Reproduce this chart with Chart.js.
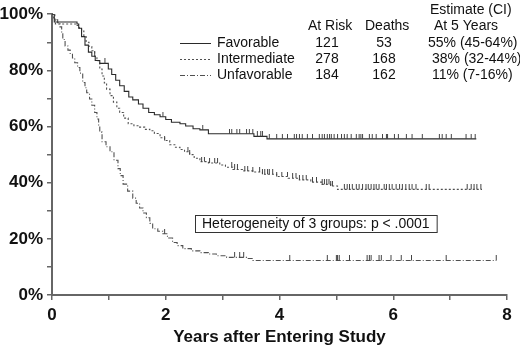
<!DOCTYPE html>
<html>
<head>
<meta charset="utf-8">
<script src="https://cdn.jsdelivr.net/npm/chart.js@4.4.1/dist/chart.umd.min.js"></script>
<style>
html,body{margin:0;padding:0;background:#fff;}
#wrap{width:520px;height:346px;position:relative;}
</style>
</head>
<body>
<div id="wrap"><canvas id="c" width="520" height="346"></canvas></div>
<script>
// ---- Data ----
const groups = ["Favorable", "Intermediate", "Unfavorable"];
const atRisk = ["121", "278", "184"];
const deaths = ["53", "168", "162"];
const estimates = ["55% (45-64%)", "38% (32-44%)", "11% (7-16%)"];
const yTickLabels = ["0%", "20%", "40%", "60%", "80%", "100%"];
const xTickLabels = ["0", "2", "4", "6", "8"];
const annotationText = "Heterogeneity of 3 groups: p < .0001";

const favTimes = [0,0.04,0.44,0.47,0.52,0.58,0.64,0.70,0.76,0.84,0.99,1.05,1.12,1.19,1.27,1.35,1.42,1.52,1.60,1.70,1.80,1.90,2.00,2.10,2.25,2.35,2.48,2.60,2.75,3.55,3.78,7.46];
const favSurv  = [100,97.2,96.5,95,92,89,86.5,85,83.5,82.5,80.5,78.5,76.5,74.5,72.5,70.5,69.5,68,66.5,65,64.2,63.5,62.5,61.5,61,60.2,59.2,58.8,57.4,56.5,55.6,55.6];
const favCensor = [0.75,0.93,1.95,2.65,3.12,3.16,3.25,3.30,3.42,3.47,3.53,3.61,3.67,3.70,3.82,3.95,4.05,4.14,4.26,4.30,4.35,4.40,4.49,4.58,4.70,4.75,4.79,4.84,4.88,4.91,4.96,5.02,5.09,5.14,5.19,5.26,5.35,5.40,5.43,5.46,5.58,5.63,5.70,5.81,5.88,5.90,6.02,6.09,6.23,6.33,6.51,6.81,6.86,6.93,7.02,7.28,7.37,7.44];

const intTimes = [0,0.03,0.06,0.44,0.48,0.52,0.56,0.60,0.65,0.70,0.75,0.79,0.84,0.88,0.92,0.96,1.02,1.08,1.14,1.19,1.26,1.34,1.44,1.54,1.63,1.72,1.80,1.90,1.98,2.07,2.16,2.25,2.33,2.42,2.50,2.60,2.75,2.95,3.05,3.18,3.35,3.53,3.70,3.95,4.15,4.35,4.55,4.75,4.90,5.02,7.56];
const intSurv  = [100,98,96.5,96,95,94,92,90,88.5,87,85,83.4,80.5,78,75.5,73.3,71,68.7,66.5,65,63,61,60.3,59.8,59,58.5,57.5,56,55,53.5,52.6,51.8,51,50,48.7,47.5,47,46.3,45.5,44.7,44.2,43.8,43,42.2,41.6,41,40.2,39.4,38.8,37.6,37.6];
const intCensor = [1.98,2.39,2.42,2.63,2.68,2.77,2.86,2.91,3.16,3.21,3.26,3.39,3.44,3.53,3.65,3.70,3.74,3.79,3.82,3.88,3.95,4.04,4.14,4.23,4.29,4.35,4.41,4.47,4.58,4.65,4.75,4.79,4.83,4.87,4.90,4.93,5.14,5.19,5.23,5.28,5.35,5.40,5.46,5.52,5.56,5.61,5.66,5.70,5.75,5.84,5.88,5.93,5.98,6.05,6.11,6.16,6.22,6.28,6.33,6.40,6.58,6.63,7.30,7.37,7.42,7.47,7.54];

const unfTimes = [0,0.05,0.10,0.14,0.17,0.19,0.23,0.28,0.32,0.36,0.40,0.45,0.49,0.54,0.58,0.61,0.66,0.70,0.75,0.79,0.82,0.84,0.88,0.95,1.02,1.09,1.16,1.20,1.25,1.33,1.42,1.48,1.54,1.60,1.66,1.72,1.77,1.86,1.95,2.03,2.12,2.20,2.30,2.45,2.60,2.75,2.89,3.07,3.42,3.53,7.81];
const unfSurv  = [100,98,97,95.5,93,91,88.7,87.2,86,84.4,82.7,81,79,75.7,73.8,72,69.8,67.6,65,62.7,60.3,58,54.6,52.8,51,48,45,42.5,39.5,37,34.5,32.7,31,29.2,27.5,25.5,23.6,22.7,21.8,20.3,18.7,17.6,16.5,15.7,15.1,14.6,14,13.4,13,12.3,12.3];
const unfCensor = [1.98,3.21,3.30,3.37,4.18,4.84,5.00,5.02,5.05,5.23,5.54,5.58,5.61,5.75,5.79,5.96,6.14,6.32,6.93,7.81];

// ---- helpers ----
function pts(ts, ss){ return ts.map((t,i)=>({x:t,y:ss[i]})); }
function survAt(ts, ss, t){ let v = ss[0]; for(let i=0;i<ts.length;i++){ if(ts[i] <= t) v = ss[i]; else break; } return v; }
function censorPts(cs, ts, ss){ return cs.map(t=>({x:t,y:survAt(ts,ss,t)})); }

const tickImg = document.createElement('canvas');
tickImg.width = 3; tickImg.height = 10;
(function(){ const g = tickImg.getContext('2d'); g.strokeStyle = '#444'; g.lineWidth = 1; g.beginPath(); g.moveTo(1.5,0); g.lineTo(1.5,5); g.stroke(); })();

const FONT = 'Arial, "Liberation Sans", sans-serif';
const lineColors = ['#2a2a2a', '#505050', '#505050'];
const dashes = [[], [2,2], [5,2,1,2]];

const tablePlugin = {
  id: 'kmTable',
  afterDraw(chart){
    const ctx = chart.ctx;
    ctx.save();
    ctx.fillStyle = '#111';
    ctx.font = '14px ' + FONT;
    ctx.textBaseline = 'middle';
    ctx.textAlign = 'left';
    ctx.fillText('Estimate (CI)', 430, 10);
    ctx.fillText('At Risk', 308, 26);
    ctx.fillText('Deaths', 365, 26);
    ctx.fillText('At 5 Years', 434, 26);
    const rowY = [43, 59, 75];
    const estX = [428, 432, 432];
    for(let i=0;i<groups.length;i++){
      const y = rowY[i];
      ctx.strokeStyle = lineColors[i];
      ctx.lineWidth = 1;
      ctx.setLineDash(dashes[i]);
      ctx.beginPath(); ctx.moveTo(180, y+0.5); ctx.lineTo(211, y+0.5); ctx.stroke();
      ctx.setLineDash([]);
      ctx.textAlign = 'left';
      ctx.fillText(groups[i], 217, y);
      ctx.textAlign = 'center';
      ctx.fillText(atRisk[i], 327, y);
      ctx.fillText(deaths[i], 384, y);
      ctx.textAlign = 'left';
      ctx.fillText(estimates[i], estX[i], y);
    }
    // annotation box
    ctx.font = '14px ' + FONT;
    ctx.textAlign = 'left';
    const w = ctx.measureText(annotationText).width;
    ctx.fillText(annotationText, 202, 224);
    ctx.strokeStyle = '#333';
    ctx.lineWidth = 1;
    ctx.strokeRect(195.5, 215.5, w + 14, 17);
    ctx.restore();
  }
};

const datasets = [];
const allT = [favTimes, intTimes, unfTimes];
const allS = [favSurv, intSurv, unfSurv];
const allC = [favCensor, intCensor, unfCensor];
for(let i=0;i<3;i++){
  datasets.push({
    type: 'line', label: groups[i], data: pts(allT[i], allS[i]),
    stepped: 'before', borderColor: lineColors[i], borderWidth: 1.1,
    borderDash: dashes[i], pointRadius: 0, fill: false, order: 2
  });
  datasets.push({
    type: 'scatter', label: groups[i] + ' censored', data: censorPts(allC[i], allT[i], allS[i]),
    pointStyle: tickImg, pointRadius: 5, showLine: false, order: 1
  });
}

new Chart(document.getElementById('c'), {
  type: 'line',
  data: { datasets },
  options: {
    responsive: false,
    animation: false,
    layout: { padding: { top: 11, right: 13, bottom: 0, left: 0 } },
    plugins: { legend: { display: false }, tooltip: { enabled: false } },
    scales: {
      x: {
        type: 'linear', min: 0, max: 8,
        afterFit: (a) => { a.height = 51; },
        border: { color: '#666', width: 2 },
        grid: { drawOnChartArea: false, drawTicks: true, tickLength: 5, color: '#666', lineWidth: 1.5 },
        ticks: {
          stepSize: 1, autoSkip: false, maxRotation: 0, padding: 5, color: '#111',
          font: { family: FONT, size: 17, weight: 'bold' },
          callback: (v) => (v % 2 === 0 ? xTickLabels[v/2] : '')
        },
        title: { display: true, text: 'Years after Entering Study', color: '#111',
          font: { family: FONT, size: 17, weight: 'bold' }, padding: { top: 0, bottom: -2 } }
      },
      y: {
        type: 'linear', min: 0, max: 100,
        afterFit: (a) => { a.width = 52; },
        border: { color: '#666', width: 2 },
        grid: { drawOnChartArea: false, drawTicks: true, tickLength: 5, color: '#666', lineWidth: 1.5 },
        ticks: {
          stepSize: 10, autoSkip: false, padding: 4, color: '#111',
          font: { family: FONT, size: 17, weight: 'bold' },
          callback: (v) => (v % 20 === 0 ? yTickLabels[v/20] : '')
        }
      }
    }
  },
  plugins: [tablePlugin]
});
</script>
</body>
</html>
